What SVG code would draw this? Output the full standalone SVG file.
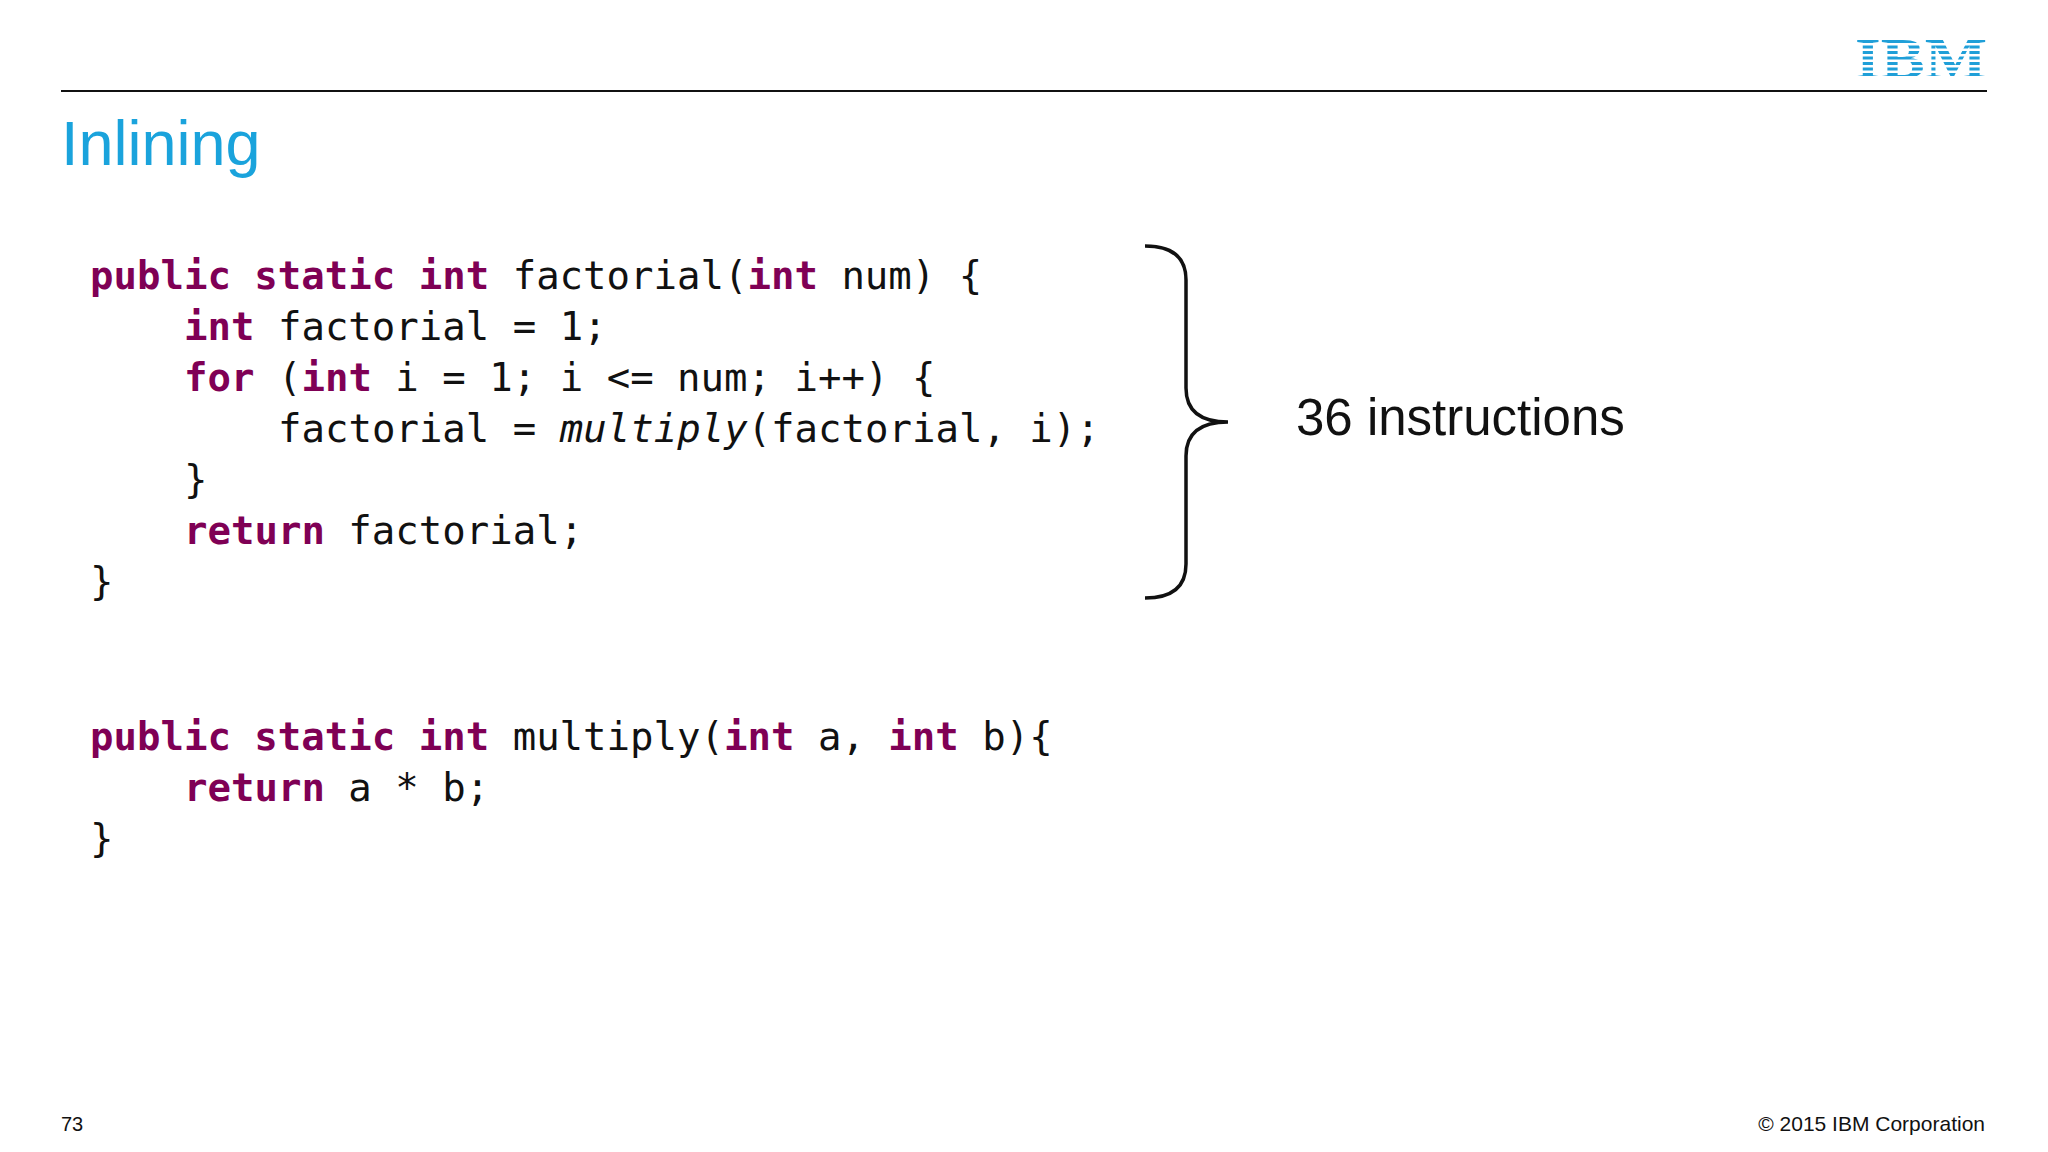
<svg xmlns="http://www.w3.org/2000/svg" width="2048" height="1152" viewBox="0 0 2048 1152">
<style>
.code{font-family:"DejaVu Sans Mono","Liberation Mono",monospace;font-size:39px;fill:#111;white-space:pre}
.kw{fill:#7f0055;font-weight:bold}
.s{font-family:"Liberation Sans",Arial,sans-serif}
</style>
<rect width="2048" height="1152" fill="#fff"/>
<line x1="61" y1="91" x2="1987" y2="91" stroke="#111" stroke-width="2"/>
<g id="logo">
<text x="1921" y="78" text-anchor="middle" font-family="Liberation Serif,serif" font-weight="bold" font-size="56" fill="#1f9fd8" textLength="132" lengthAdjust="spacingAndGlyphs">IBM</text>
<g fill="#fff"><rect x="1850" y="43" width="142" height="2.5"/><rect x="1850" y="48.5" width="142" height="2.5"/><rect x="1850" y="54" width="142" height="2.5"/><rect x="1850" y="59.5" width="142" height="2.5"/><rect x="1850" y="65" width="142" height="2.5"/><rect x="1850" y="70.5" width="142" height="2.5"/><rect x="1850" y="76" width="142" height="2.5"/></g>
</g>
<text x="61" y="165" class="s" font-size="63" fill="#1aa3dc">Inlining</text>
<g id="code1" class="code" xml:space="preserve">
<text x="90" y="289"><tspan class="kw">public static int</tspan> factorial(<tspan class="kw">int</tspan> num) {</text>
<text x="184" y="340"><tspan class="kw">int</tspan> factorial = 1;</text>
<text x="184" y="391"><tspan class="kw">for</tspan> (<tspan class="kw">int</tspan> i = 1; i &lt;= num; i++) {</text>
<text x="278" y="442">factorial = <tspan font-style="italic">multiply</tspan>(factorial, i);</text>
<text x="184" y="493">}</text>
<text x="184" y="544"><tspan class="kw">return</tspan> factorial;</text>
<text x="90" y="595">}</text>
</g>
<g id="code2" class="code" xml:space="preserve">
<text x="90" y="750"><tspan class="kw">public static int</tspan> multiply(<tspan class="kw">int</tspan> a, <tspan class="kw">int</tspan> b){</text>
<text x="184" y="801"><tspan class="kw">return</tspan> a * b;</text>
<text x="90" y="852">}</text>
</g>
<g id="brace">
<path d="M1145 246 Q1186 246 1186 280 L1186 388 Q1186 422 1228 422 Q1186 422 1186 456 L1186 564 Q1186 598 1145 598" fill="none" stroke="#111" stroke-width="3.5"/>
</g>
<text x="1296" y="435" class="s" font-size="51" fill="#111">36 instructions</text>
<text x="61" y="1131" class="s" font-size="20" fill="#111">73</text>
<text x="1985" y="1131" class="s" font-size="21" fill="#111" text-anchor="end">© 2015 IBM Corporation</text>
</svg>
